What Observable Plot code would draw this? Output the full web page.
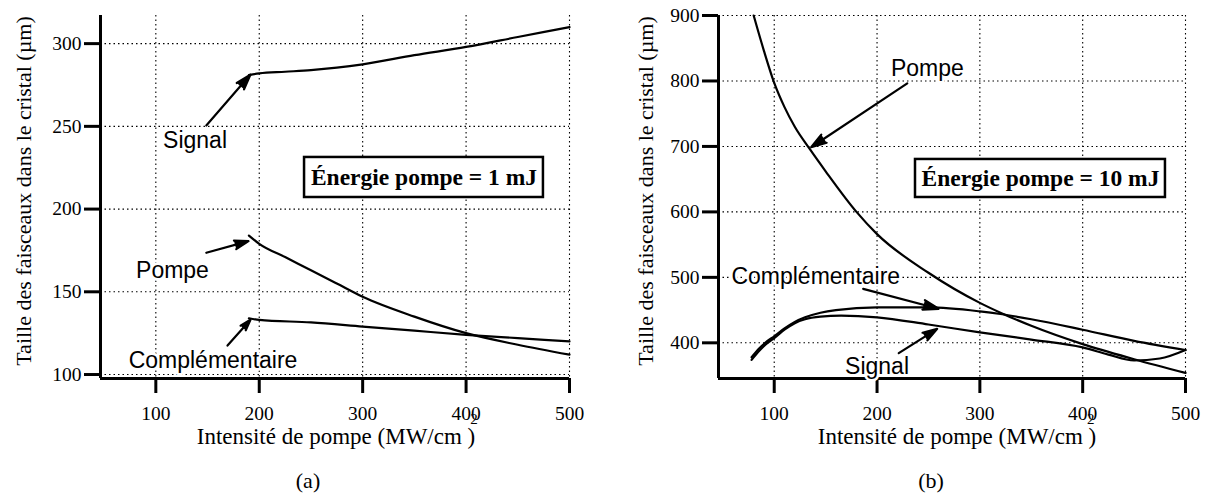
<!DOCTYPE html>
<html><head><meta charset="utf-8">
<script src="https://cdn.jsdelivr.net/npm/d3@7"></script>
<script src="https://cdn.jsdelivr.net/npm/@observablehq/plot@0.6"></script>
<style>
body{margin:0;background:#fff;}
#wrap{position:relative;width:1215px;height:502px;overflow:hidden;background:#fff;}
#a{position:absolute;left:0;top:0;}
#b{position:absolute;left:600px;top:0;}
</style></head><body><div id="wrap"><div id="a"></div><div id="b"></div></div>
<script>
// ---- shared tick labels / texts
const xTicks = [100, 200, 300, 400, 500];
const xTitle = "Intensité de pompe (MW/cm )";
const xTitleSup = "2";
const yTitle = "Taille des faisceaux dans le cristal (µm)";

// ---- panel (a): pump energy 1 mJ
const yTicksA = [100, 150, 200, 250, 300];
const xDomainA = [46.5, 500];
const yDomainA = [97.6, 317];
const signalA = [[190,281],[200,282],[225,283],[250,284],[275,285.5],[300,287.5],[350,293],[400,298],[450,304],[500,310]];
const pompeA = [[190,184],[200,179],[225,171],[250,163],[275,155],[300,147],[350,135],[400,125],[450,118],[500,112]];
const complA = [[190,134],[200,133],[250,131.5],[300,129],[350,126.5],[400,124],[450,122],[500,120]];
const labelsA = [
  {text: "Signal", x: 137.9, y: 241.4},
  {text: "Pompe", x: 116.1, y: 163.1},
  {text: "Complémentaire", x: 155.3, y: 108.7}
];
const arrowsA = [
  {x1: 148.8, y1: 250.5, x2: 191.5, y2: 281.3},
  {x1: 148.8, y1: 173.6, x2: 189.6, y2: 180.6},
  {x1: 169.3, y1: 117.5, x2: 191.5, y2: 133.1}
];
const boxA = [{x1: 243.8, x2: 474.8, y1: 207.0, y2: 231.2, text: "Énergie pompe = 1 mJ"}];

// ---- panel (b): pump energy 10 mJ
const yTicksB = [400, 500, 600, 700, 800, 900];
const xDomainB = [45.8, 500];
const yDomainB = [345.5, 900];
const pompeB = [[80,900],[90,846],[100,797],[110,760],[120,730],[135,695],[150,662],[180,600],[200,566],[250,507],[300,461],[320,446],[350,426],[400,398],[450,375],[500,354]];
const complB = [[78,378],[85,391],[92,401],[100,410],[110,422],[120,432],[130,439],[145,446],[160,450],[200,454],[250,454],[300,448],[320,444],[350,436],[400,420],[450,403],[500,389]];
const signalB = [[78,374],[85,387],[92,398],[100,407],[110,420],[120,430],[130,436],[145,440],[165,441.5],[200,439],[250,428],[300,416],[350,405],[400,393],[425,382],[450,373],[475,376],[500,389]];
const labelsB = [
  {text: "Pompe", x: 248.9, y: 819.1},
  {text: "Complémentaire", x: 140.4, y: 501.3},
  {text: "Signal", x: 200, y: 363.8}
];
const arrowsB = [
  {x1: 229.4, y1: 796.2, x2: 135.9, y2: 698.8},
  {x1: 186.5, y1: 482.5, x2: 259.8, y2: 452.0},
  {x1: 221.1, y1: 384.2, x2: 258.5, y2: 421.4}
];
const boxB = [{x1: 237.4, x2: 480.5, y1: 622.0, y2: 680.1, text: "Énergie pompe = 10 mJ"}];

const serif = "'Liberation Serif','Times New Roman',Times,serif";
const sans = "'Liberation Sans',Arial,Helvetica,sans-serif";

function panel(o) {
  const series = o.series;
  return Plot.plot({
    width: o.width, height: 502,
    marginLeft: o.marginLeft, marginRight: o.marginRight, marginTop: 15, marginBottom: 124,
    x: {domain: o.xDomain},
    y: {domain: o.yDomain},
    style: {fontFamily: serif, fontSize: "19px", color: "black", background: "white", overflow: "visible"},
    marks: [
      Plot.ruleX(xTicks, {stroke: "black", strokeWidth: 1.1, strokeDasharray: "1.5,3"}),
      Plot.ruleY(o.yTicks, {stroke: "black", strokeWidth: 1.1, strokeDasharray: "1.5,3"}),
      Plot.ruleX([o.xDomain[0]], {stroke: "black", strokeWidth: 3}),
      Plot.ruleY([o.yDomain[0]], {stroke: "black", strokeWidth: 3}),
      Plot.axisX({ticks: xTicks, tickSize: 15, tickPadding: 13, strokeWidth: 3, fontSize: 19.5, label: null}),
      Plot.axisY({ticks: o.yTicks, tickSize: 16, tickPadding: 3, strokeWidth: 3, fontSize: 19.5, label: null}),
      ...series.map(s => Plot.line(s, {x: d => d[0], y: d => d[1], curve: "monotone-x", stroke: "black", strokeWidth: 2.2})),
      Plot.arrow(o.arrows, {x1: "x1", y1: "y1", x2: "x2", y2: "y2", stroke: "black", fill: "black", strokeWidth: 2.2, headLength: 11, headAngle: 35}),
      Plot.text(o.labels, {x: "x", y: "y", text: "text", fontFamily: sans, fontSize: 23, fill: "black", stroke: "white", strokeWidth: 5, paintOrder: "stroke"}),
      Plot.rect(o.box, {x1: "x1", x2: "x2", y1: "y1", y2: "y2", fill: "white", stroke: "black", strokeWidth: 2.5}),
      Plot.text(o.box, {x: d => (d.x1 + d.x2) / 2, y: d => (d.y1 + d.y2) / 2, text: "text", fontFamily: serif, fontWeight: "bold", fontSize: 23.5, fill: "black"}),
      Plot.text([xTitle], {frameAnchor: "bottom", textAnchor: "middle", dy: 65, dx: o.xTitleDx, fontSize: 23, fill: "black"}),
      Plot.text([xTitleSup], {x: () => 400, frameAnchor: "bottom", dy: 45, dx: 8, fontSize: 15, fill: "black"}),
      Plot.text([yTitle], {frameAnchor: "left", textAnchor: "middle", rotate: -90, dx: o.yTitleDx, dy: -6, fontSize: 22, fill: "black"}),
      Plot.text([o.caption], {frameAnchor: "bottom", textAnchor: "middle", dy: 109, dx: o.captionDx, fontSize: 22, fill: "black"})
    ]
  });
}

document.getElementById("a").append(panel({
  width: 600, marginLeft: 100, marginRight: 31,
  xDomain: xDomainA, yDomain: yDomainA, yTicks: yTicksA,
  series: [signalA, pompeA, complA], labels: labelsA, arrows: arrowsA, box: boxA,
  caption: "(a)", captionDx: -27, xTitleDx: 1, yTitleDx: -77
}));
document.getElementById("b").append(panel({
  width: 615, marginLeft: 118, marginRight: 30,
  xDomain: xDomainB, yDomain: yDomainB, yTicks: yTicksB,
  series: [pompeB, complB, signalB], labels: labelsB, arrows: arrowsB, box: boxB,
  caption: "(b)", captionDx: -21, xTitleDx: 5, yTitleDx: -73
}));
</script></body></html>
